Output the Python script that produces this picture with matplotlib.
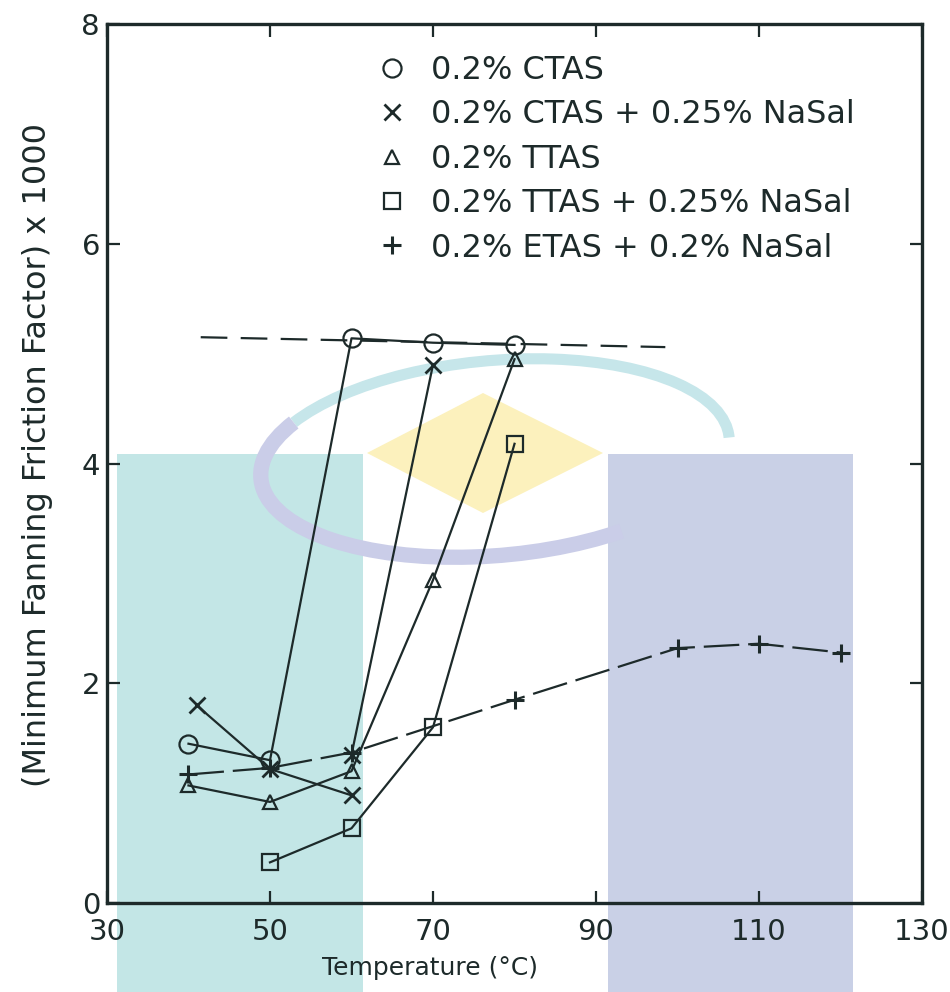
import matplotlib
matplotlib.use("Agg")
import matplotlib.pyplot as plt
from matplotlib.patches import Rectangle, Polygon, Arc

# readings from the scanned figure
temp_ctas = [40, 50, 60, 70, 80]
ff_ctas = [1.45, 1.30, 5.14, 5.10, 5.08]

temp_ctas_nasal = [41, 50, 60]
ff_ctas_nasal = [1.80, 1.22, 0.98]
temp_ctas_nasal_jump = [60, 70]
ff_ctas_nasal_jump = [1.35, 4.90]

temp_ttas = [40, 50, 60, 70, 80]
ff_ttas = [1.07, 0.92, 1.20, 2.94, 4.95]

temp_ttas_nasal = [50, 60, 70, 80]
ff_ttas_nasal = [0.37, 0.68, 1.60, 4.18]

temp_etas = [40, 50, 60, 80, 100, 110, 120]
ff_etas = [1.17, 1.23, 1.37, 1.85, 2.32, 2.36, 2.28]

plateau_temp = [41.5, 98.5]
plateau_ff = [5.15, 5.06]

labels = ["0.2% CTAS", "0.2% CTAS + 0.25% NaSal", "0.2% TTAS",
          "0.2% TTAS + 0.25% NaSal", "0.2% ETAS + 0.2% NaSal"]
x_ticks = [30, 50, 70, 90, 110, 130]
y_ticks = [0, 2, 4, 6, 8]

ink = "#1d2a2a"
plt.rcParams['font.family'] = ['DejaVu Sans']

fig = plt.figure(figsize=(9.5, 9.92), dpi=100)

# watermark behind the chart (pixel coordinates of the page)
bg = fig.add_axes([0, 0, 1, 1], zorder=0)
bg.set_xlim(0, 950)
bg.set_ylim(992, 0)
bg.axis("off")
bg.add_patch(Rectangle((117, 454), 246, 538, color="#c3e6e6", lw=0))
bg.add_patch(Rectangle((608, 454), 245, 538, color="#c9d0e6", lw=0))
bg.add_patch(Polygon([(367, 453), (483, 393), (603, 453), (483, 513)],
                     closed=True, color="#fcf1bd", lw=0))
bg.add_patch(Arc((495, 458), 470, 195, angle=-5, theta1=195, theta2=360,
                 color="#c6e6ea", lw=8))
bg.add_patch(Arc((495, 458), 470, 195, angle=-5, theta1=35, theta2=195,
                 color="#cacde8", lw=11))

ax = fig.add_axes([0.1126, 0.0897, 0.858, 0.886], zorder=1)
ax.set_facecolor("none")

lw = 1.6
ax.plot(plateau_temp, plateau_ff, color=ink, lw=lw, dashes=(12, 6))
ax.plot(temp_ctas, ff_ctas, color=ink, lw=lw, marker="o", ms=13,
        mfc="none", mew=1.6, label=labels[0])
ax.plot(temp_ctas_nasal, ff_ctas_nasal, color=ink, lw=lw, marker="x", ms=11,
        mew=2, label=labels[1])
ax.plot(temp_ctas_nasal_jump, ff_ctas_nasal_jump, color=ink, lw=lw, marker="x",
        ms=11, mew=2)
ax.plot(temp_ttas, ff_ttas, color=ink, lw=lw, marker="^", ms=10,
        mfc="none", mew=1.6, label=labels[2])
ax.plot(temp_ttas_nasal, ff_ttas_nasal, color=ink, lw=lw, marker="s", ms=12,
        mfc="none", mew=1.6, label=labels[3])
ax.plot(temp_etas, ff_etas, color=ink, lw=lw, marker="+", ms=13,
        mew=2.2, dashes=(16, 4), label=labels[4])

ax.set_xlim(30, 130)
ax.set_ylim(0, 8)
ax.set_xticks(x_ticks)
ax.set_yticks(y_ticks)
ax.tick_params(direction="in", length=9, width=1.6, colors=ink,
               top=True, right=True, labelsize=21)
ax.tick_params(axis="x", pad=11)
ax.tick_params(axis="y", pad=5)
for s in ax.spines.values():
    s.set_linewidth(2.4)
    s.set_color(ink)

ax.set_xlabel("Temperature (°C)", fontsize=18, color=ink)
ax.xaxis.set_label_coords(0.396, -0.06)
ax.set_ylabel("(Minimum Fanning Friction Factor) x 1000", fontsize=23, color=ink)
ax.yaxis.set_label_coords(-0.066, 0.51)

ax.legend(loc="upper left", bbox_to_anchor=(0.35, 0.965), frameon=False,
          handlelength=0, handletextpad=1.2, fontsize=23, labelspacing=0.42,
          borderpad=0, borderaxespad=0, labelcolor=ink)

fig.savefig("out.png", dpi=100)
